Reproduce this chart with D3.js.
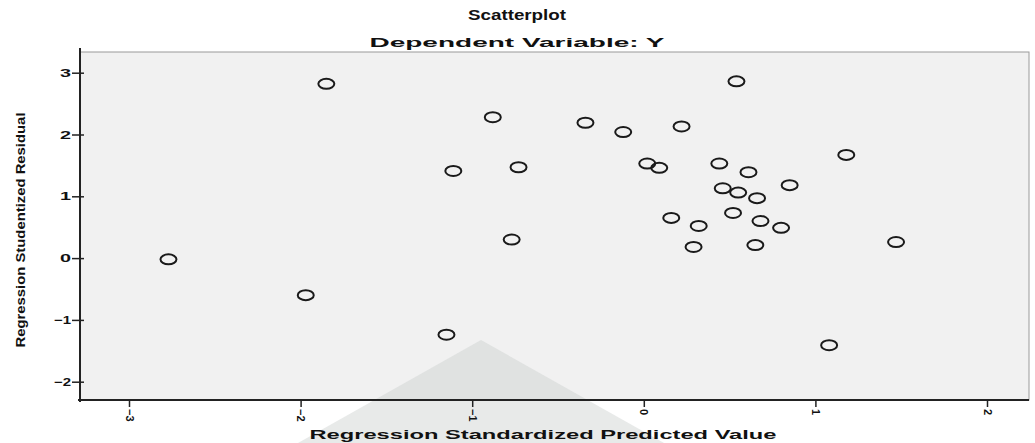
<!DOCTYPE html>
<html>
<head>
<meta charset="utf-8">
<title>Scatterplot</title>
<script src="https://cdn.jsdelivr.net/npm/d3@7"></script>
<style>
  body { margin: 0; background: #fff; font-family: "Liberation Sans", Arial, sans-serif; }
  .lbl { font-weight: bold; fill: #111; }
</style>
</head>
<body>
<div id="chart"></div>
<script>
// predicted value (x) and studentized residual (y)
const predicted = [-1.85, -0.88, -1.11, -0.73, -0.77, -2.77, -1.97, -1.15,
  0.54, -0.34, -0.12, 0.22, 1.18, 0.02, 0.09, 0.44, 0.61, 0.85, 0.46, 0.55,
  0.66, 0.16, 0.32, 0.52, 0.68, 0.80, 0.29, 0.65, 1.47, 1.08];
const residual = [2.82, 2.28, 1.41, 1.47, 0.30, -0.02, -0.60, -1.24,
  2.86, 2.19, 2.04, 2.13, 1.67, 1.53, 1.46, 1.53, 1.39, 1.18, 1.13, 1.06,
  0.97, 0.65, 0.52, 0.73, 0.60, 0.49, 0.18, 0.21, 0.26, -1.41];
const xTicks = [-3, -2, -1, 0, 1, 2];
const yTicks = [3, 2, 1, 0, -1, -2];

const W = 1035, H = 443;
const plot = { left: 80, right: 1029, top: 52, bottom: 400 };

const svg = d3.select("#chart").append("svg")
  .attr("width", W).attr("height", H);

const x = d3.scaleLinear().domain([-3, 2]).range([129, 987]);
const y = d3.scaleLinear().domain([-2, 3]).range([381.7, 72.7]);

// plot background and frame
svg.append("rect")
  .attr("x", plot.left).attr("y", plot.top)
  .attr("width", plot.right - plot.left).attr("height", plot.bottom - plot.top)
  .attr("fill", "#f1f1f1").attr("stroke", "#9a9a9a").attr("stroke-width", 1);

// faint grey triangle sitting over the lower middle of the picture
svg.append("polygon")
  .attr("points", "481,340 298,443 664,443")
  .attr("fill", "rgb(200,205,203)").attr("opacity", 0.42);

// axes
const xAxis = svg.append("g")
  .attr("transform", `translate(0,${plot.bottom})`)
  .call(d3.axisBottom(x).tickValues(xTicks).tickSize(7).tickFormat(d3.format("d")));
xAxis.select(".domain").attr("d", `M${plot.left - 2},0H${plot.right}`)
  .attr("stroke", "#222").attr("stroke-width", 2);
xAxis.selectAll(".tick line").attr("stroke", "#222").attr("stroke-width", 1.5);
xAxis.selectAll(".tick text")
  .attr("class", "lbl")
  .attr("font-size", 11)
  .attr("transform", "rotate(90)")
  .attr("x", 9).attr("y", 0)
  .attr("dy", "0.35em")
  .attr("text-anchor", "start");

const yAxis = svg.append("g")
  .attr("transform", `translate(${plot.left},0)`)
  .call(d3.axisLeft(y).tickValues(yTicks).tickSize(6).tickFormat(d3.format("d")));
yAxis.select(".domain").attr("d", `M0,${plot.top - 4}V${plot.bottom + 2}`)
  .attr("stroke", "#222").attr("stroke-width", 2);
yAxis.selectAll(".tick line").attr("x2", -8).attr("x1", 4)
  .attr("stroke", "#222").attr("stroke-width", 1.5);
yAxis.selectAll(".tick text")
  .attr("class", "lbl")
  .attr("font-size", 11)
  .attr("x", -9)
  .attr("textLength", function(d) { return d < 0 ? 17 : 11; })
  .attr("lengthAdjust", "spacingAndGlyphs");

// points
svg.append("g").selectAll("ellipse")
  .data(predicted.map((p, i) => ({ p: p, r: residual[i] })))
  .join("ellipse")
  .attr("cx", d => x(d.p))
  .attr("cy", d => y(d.r))
  .attr("rx", 8).attr("ry", 5)
  .attr("fill", "none")
  .attr("stroke", "#1a1a1a")
  .attr("stroke-width", 2);

// titles
svg.append("text").attr("class", "lbl")
  .attr("x", 517).attr("y", 20).attr("text-anchor", "middle")
  .attr("font-size", 14)
  .attr("textLength", 98).attr("lengthAdjust", "spacingAndGlyphs")
  .text("Scatterplot");

svg.append("text").attr("class", "lbl")
  .attr("x", 517).attr("y", 47).attr("text-anchor", "middle")
  .attr("font-size", 13)
  .attr("textLength", 295).attr("lengthAdjust", "spacingAndGlyphs")
  .text("Dependent Variable: Y");

svg.append("text").attr("class", "lbl")
  .attr("x", 543).attr("y", 439).attr("text-anchor", "middle")
  .attr("font-size", 13)
  .attr("textLength", 467).attr("lengthAdjust", "spacingAndGlyphs")
  .text("Regression Standardized Predicted Value");

svg.append("text").attr("class", "lbl")
  .attr("transform", "translate(25,230) rotate(-90)")
  .attr("text-anchor", "middle")
  .attr("font-size", 13)
  .attr("textLength", 235).attr("lengthAdjust", "spacingAndGlyphs")
  .text("Regression Studentized Residual");
</script>
</body>
</html>
